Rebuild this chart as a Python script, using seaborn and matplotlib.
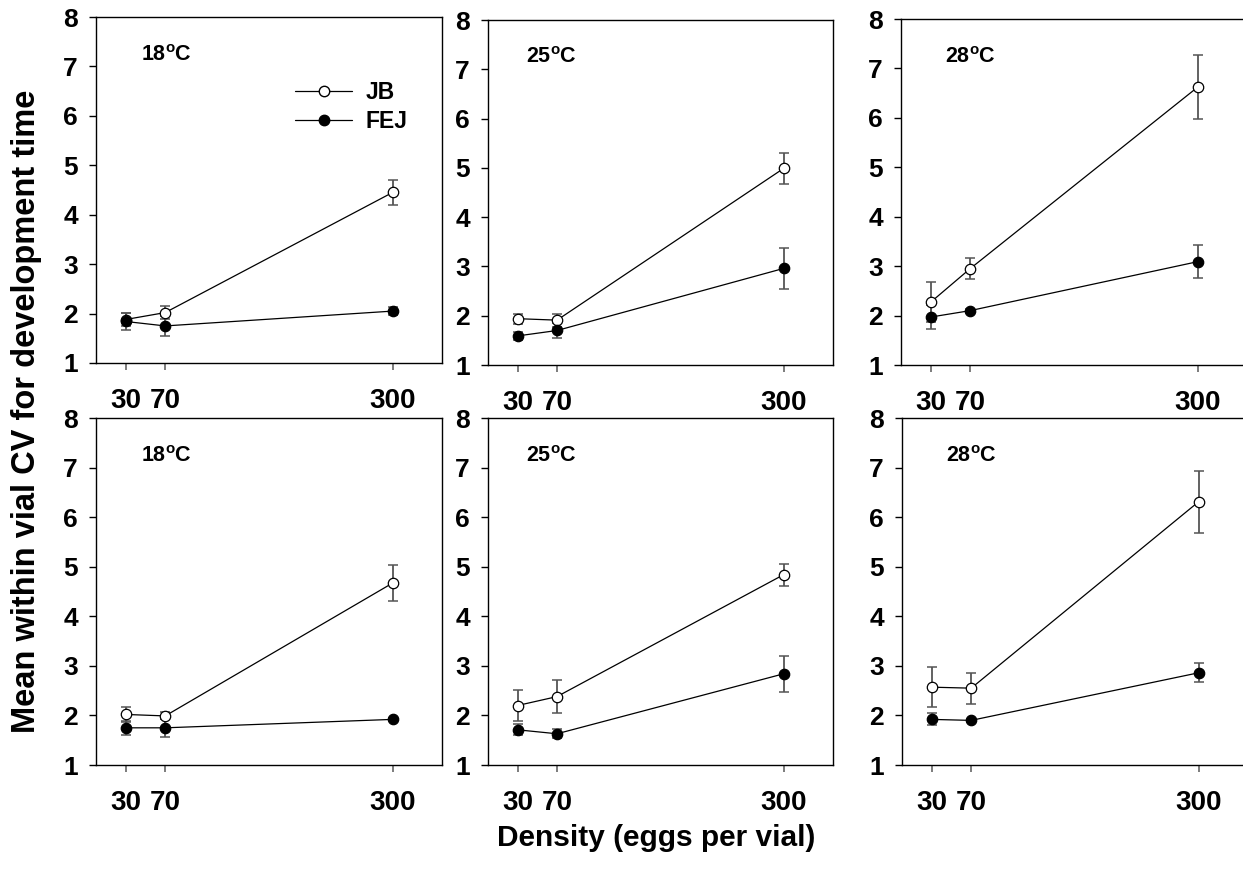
import numpy as np
import pandas as pd
import matplotlib
matplotlib.use("Agg")
import matplotlib.pyplot as plt
import seaborn as sns
from matplotlib.lines import Line2D

# ---------------- data ----------------
density = [30, 70, 300]
temps = ["18", "25", "28"]
strains = ["JB", "FEJ"]

# top row
jb_mean_top = [[1.88, 2.02, 4.45], [1.94, 1.91, 4.99], [2.27, 2.95, 6.62]]
jb_se_top = [[0.14, 0.13, 0.26], [0.10, 0.13, 0.31], [0.40, 0.22, 0.65]]
fej_mean_top = [[1.84, 1.75, 2.05], [1.59, 1.70, 2.96], [1.97, 2.10, 3.09]]
fej_se_top = [[0.18, 0.21, 0.08], [0.08, 0.15, 0.41], [0.25, 0.04, 0.33]]

# bottom row
jb_mean_bot = [[2.02, 1.99, 4.67], [2.20, 2.38, 4.84], [2.57, 2.55, 6.31]]
jb_se_bot = [[0.16, 0.07, 0.36], [0.31, 0.33, 0.22], [0.41, 0.31, 0.63]]
fej_mean_bot = [[1.75, 1.75, 1.92], [1.71, 1.63, 2.84], [1.92, 1.90, 2.86]]
fej_se_bot = [[0.14, 0.18, 0.03], [0.11, 0.09, 0.36], [0.12, 0.03, 0.19]]

xtick_labels = ["30", "70", "300"]
yticks = [1, 2, 3, 4, 5, 6, 7, 8]

# ---------------- style ----------------
sns.set_style("ticks")
plt.rcParams["font.family"] = ["Liberation Sans", "DejaVu Sans"]
plt.rcParams["font.weight"] = "bold"
plt.rcParams["text.color"] = "black"
plt.rcParams["axes.labelcolor"] = "black"
plt.rcParams["xtick.labelcolor"] = "black"
plt.rcParams["ytick.labelcolor"] = "black"
plt.rcParams["mathtext.fontset"] = "custom"
plt.rcParams["mathtext.rm"] = "Liberation Sans:bold"
plt.rcParams["mathtext.bf"] = "Liberation Sans:bold"

W, H = 1243, 872
fig = plt.figure(figsize=(W / 100, H / 100), dpi=100)

# panel rectangles in pixels: (left, top, right, bottom)
panel_px = [
    [(96, 17, 442, 363), (488, 20, 833, 365), (901, 19, 1247, 365)],
    [(96, 418, 442, 765), (488, 418, 833, 765), (902, 418, 1248, 765)],
]
label_x = [46, 39, 45]

rows = [
    (jb_mean_top, jb_se_top, fej_mean_top, fej_se_top),
    (jb_mean_bot, jb_se_bot, fej_mean_bot, fej_se_bot),
]

err_color = "#555555"
for r, (jbm, jbs, fem, fes) in enumerate(rows):
    for c in range(3):
        l, t, rr, b = panel_px[r][c]
        ax = fig.add_axes([l / W, 1 - b / H, (rr - l) / W, (b - t) / H])
        for name, means, ses, face in [("JB", jbm[c], jbs[c], "white"),
                                        ("FEJ", fem[c], fes[c], "black")]:
            df = pd.DataFrame({"density": density, "cv": means})
            ax.errorbar(density, means, yerr=ses, fmt="none", ecolor=err_color,
                        elinewidth=1.3, capsize=3.3, capthick=1.1, zorder=2)
            sns.lineplot(data=df, x="density", y="cv", ax=ax, color="black",
                         linewidth=0.9, marker="o", markersize=7.5,
                         markerfacecolor=face, markeredgecolor="black",
                         markeredgewidth=0.9, zorder=3)
        ax.set_xlim(0, 350)
        ax.set_ylim(1, 8)
        ax.set_xticks(density)
        ax.set_xticklabels(xtick_labels)
        ax.set_yticks(yticks)
        ax.set_xlabel("")
        ax.set_ylabel("")
        ax.tick_params(axis="y", direction="out", length=5, width=1, pad=8,
                       labelsize=19, color="black", labelcolor="black")
        ax.tick_params(axis="x", direction="out", length=5, width=1.2, pad=13,
                       labelsize=20, color="#666666", labelcolor="black")
        for lab in ax.get_xticklabels() + ax.get_yticklabels():
            lab.set_fontweight("bold")
        for s in ["top", "right", "bottom", "left"]:
            ax.spines[s].set_visible(True)
            ax.spines[s].set_linewidth(1.0)
            ax.spines[s].set_color("black")
        ax.text(label_x[c], 7.23, temps[c] + r"$^{\mathrm{o}}$C", ha="left",
                va="center", fontsize=15.5, fontweight="bold", color="black")
        if r == 0 and c == 0:
            handles = [
                Line2D([0], [0], color="black", lw=0.9, marker="o", markersize=7.5,
                       markerfacecolor="white", markeredgecolor="black"),
                Line2D([0], [0], color="black", lw=0.9, marker="o", markersize=7.5,
                       markerfacecolor="black", markeredgecolor="black"),
            ]
            ax.legend(handles, strains, loc="upper left",
                      bbox_to_anchor=(0.575, 0.815), frameon=False,
                      prop={"size": 16.5, "weight": "bold"}, handlelength=2.5,
                      handletextpad=0.6, labelspacing=0.28, borderpad=0,
                      borderaxespad=0)

fig.text(656 / W, 1 - 838 / H, "Density (eggs per vial)", ha="center",
         va="center", fontsize=21.5, fontweight="bold", color="black")
fig.text(27 / W, 1 - 411 / H, "Mean within vial CV for development time",
         ha="center", va="center", rotation=90, fontsize=23.5,
         fontweight="bold", color="black")

fig.savefig("out.png", dpi=100)
